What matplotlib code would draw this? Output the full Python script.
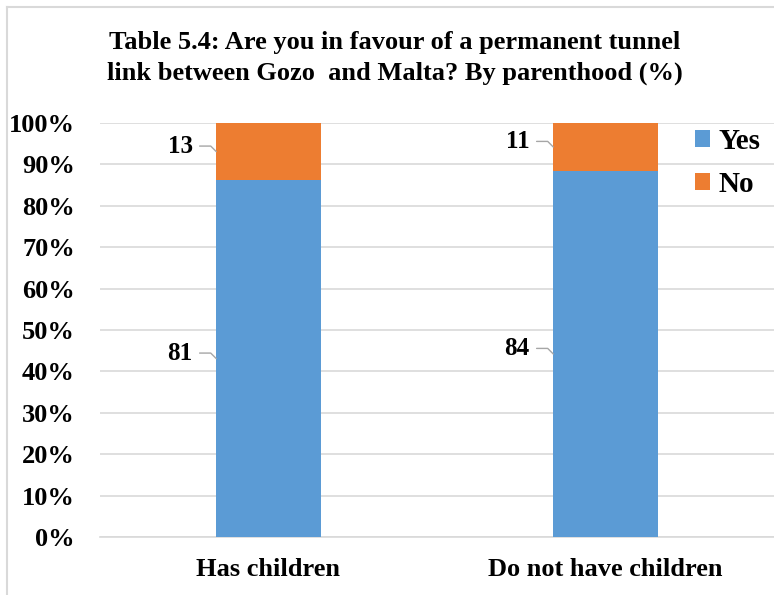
import matplotlib
matplotlib.use("Agg")
import matplotlib.pyplot as plt
from matplotlib.lines import Line2D
import numpy as np

plt.rcParams['font.family'] = ['Liberation Serif', 'DejaVu Serif']
plt.rcParams['font.weight'] = 'bold'

groups = ["Has children", "Do not have children"]
yes_vals = [81, 84]
no_vals = [13, 11]
series_names = ["Yes", "No"]
colors = ["#5B9BD5", "#ED7D31"]

yes = np.array(yes_vals, dtype=float)
no = np.array(no_vals, dtype=float)
total = yes + no
yes_pct = yes / total * 100
no_pct = no / total * 100

fig = plt.figure(figsize=(7.74, 5.95), dpi=100)
ax = fig.add_axes([100 / 774, 58 / 595, 674 / 774, 414 / 595])

x = np.arange(len(groups))
w = 0.31
ax.bar(x, yes_pct, w, color=colors[0], label=series_names[0], zorder=3)
ax.bar(x, no_pct, w, bottom=yes_pct, color=colors[1], label=series_names[1], zorder=3)

# value labels with small leader lines to the left of each segment
for i in range(len(groups)):
    for val, base, h in [(yes_vals[i], 0, yes_pct[i]), (no_vals[i], yes_pct[i], no_pct[i])]:
        ax.annotate(str(val), xy=(x[i] - w / 2, base + h / 2), xytext=(-17, 4),
                    textcoords='offset points', ha='right', va='center',
                    fontsize=18, fontweight='bold',
                    arrowprops=dict(arrowstyle='-', color='#a6a6a6', lw=1,
                                    shrinkA=3, shrinkB=0,
                                    connectionstyle='angle,angleA=0,angleB=135,rad=0'))

ax.set_xlim(-0.5, 1.5)
ax.set_ylim(0, 100)
ax.set_yticks(np.arange(0, 101, 10))
ax.set_yticklabels([f"{v}%" for v in range(0, 101, 10)])
ax.set_xticks(x)
ax.set_xticklabels(groups)
ax.tick_params(axis='y', length=0, pad=18, labelsize=19)
ax.tick_params(axis='x', length=0, pad=15, labelsize=19)
ax.grid(axis='y', color='#d9d9d9', lw=1.2, zorder=0)
ax.set_axisbelow(True)
for s in ['top', 'right', 'left']:
    ax.spines[s].set_visible(False)
ax.spines['bottom'].set_color('#d9d9d9')
ax.spines['bottom'].set_linewidth(1.2)

fig.legend(loc='upper left', bbox_to_anchor=(695 / 774, 1 - 128 / 595),
           frameon=False, fontsize=21, handlelength=0.5, handleheight=0.5,
           handletextpad=0.3, labelspacing=0.55, borderpad=0, borderaxespad=0)

fig.text(395 / 774, 1 - 43 / 595, "Table 5.4: Are you in favour of a permanent tunnel",
         ha='center', va='center', fontsize=19, fontweight='bold')
fig.text(395 / 774, 1 - 73 / 595, "link between Gozo  and Malta? By parenthood (%)",
         ha='center', va='center', fontsize=19, fontweight='bold')

# chart area border
fig.add_artist(Line2D([7 / 774, 7 / 774], [0, 1 - 7 / 595], color='#d9d9d9', lw=1.5))
fig.add_artist(Line2D([7 / 774, 1], [1 - 7 / 595, 1 - 7 / 595], color='#d9d9d9', lw=1.5))

fig.savefig("out.png", dpi=100)
